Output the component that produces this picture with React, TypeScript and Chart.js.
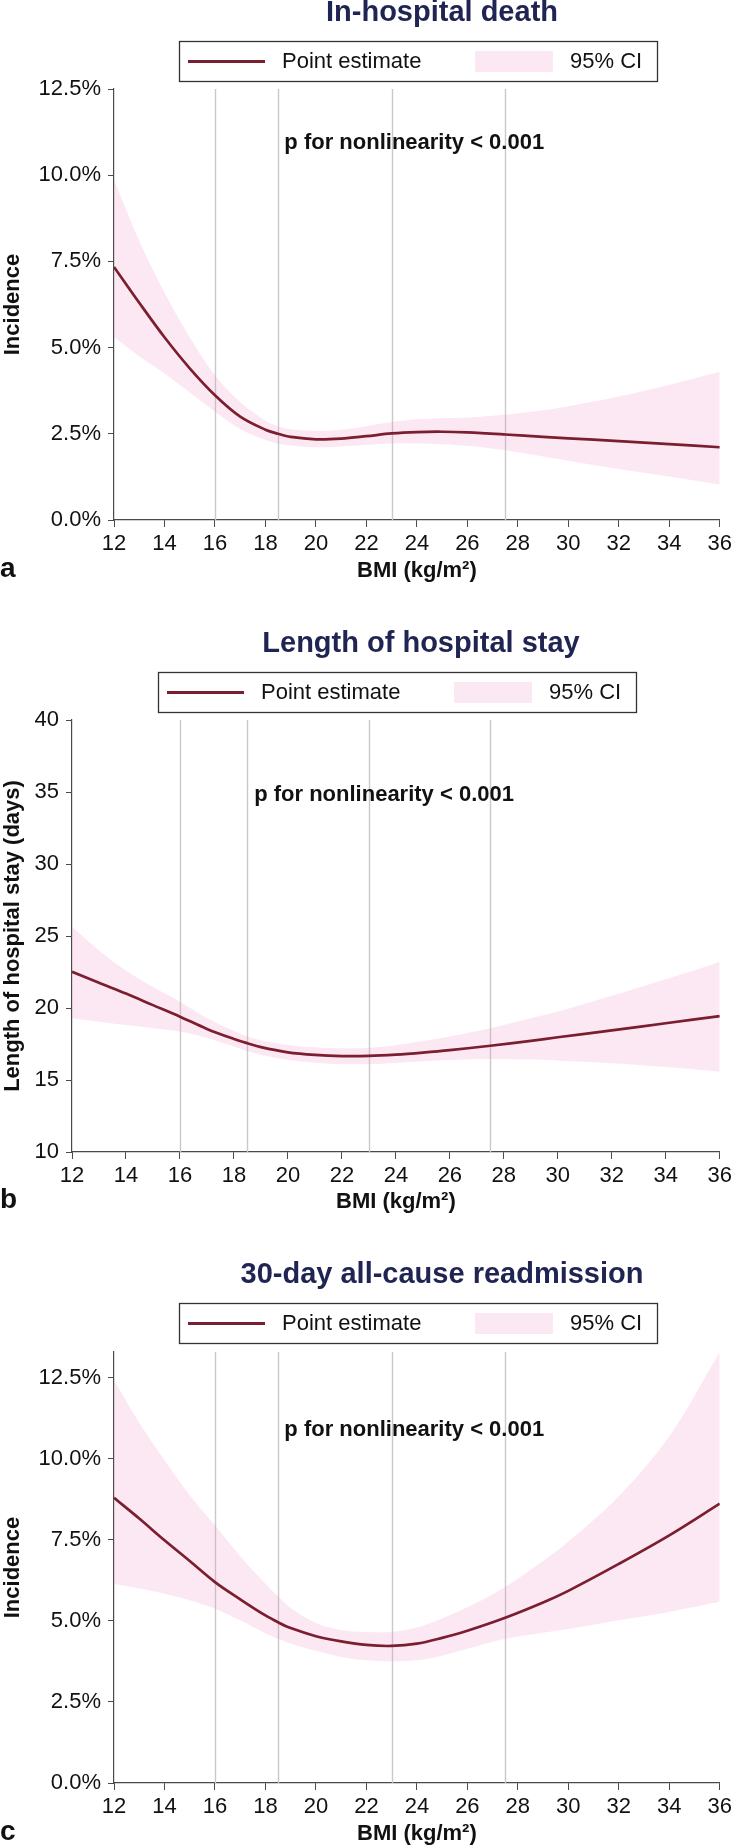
import React, { useEffect, useRef } from 'react';
import { Chart, registerables } from 'chart.js';
Chart.register(...registerables);

// ---------- data ----------
const bmi = [12, 13, 14, 15, 16, 17, 18, 18.5, 19, 20, 21, 22, 23, 24, 25, 26, 27.5, 29, 30, 32, 34, 36];

const deathPoint = [7.34, 6.3, 5.3, 4.4, 3.62, 3.0, 2.62, 2.5, 2.41, 2.34, 2.36, 2.43, 2.51, 2.55, 2.56, 2.54, 2.48, 2.41, 2.37, 2.29, 2.2, 2.11];
const deathUpper = [9.87, 8.1, 6.6, 5.3, 4.2, 3.42, 2.88, 2.72, 2.63, 2.58, 2.62, 2.72, 2.84, 2.92, 2.95, 2.97, 3.05, 3.18, 3.3, 3.58, 3.92, 4.3];
const deathLower = [5.3, 4.75, 4.25, 3.7, 3.15, 2.64, 2.32, 2.22, 2.16, 2.11, 2.13, 2.18, 2.22, 2.22, 2.2, 2.15, 2.02, 1.84, 1.72, 1.48, 1.26, 1.03];

const stayPoint = [22.52, 21.75, 21.0, 20.2, 19.4, 18.55, 17.85, 17.55, 17.28, 16.92, 16.74, 16.66, 16.67, 16.76, 16.9, 17.07, 17.38, 17.72, 17.97, 18.44, 18.94, 19.44];
const stayUpper = [25.65, 24.0, 22.6, 21.45, 20.44, 19.3, 18.4, 18.02, 17.76, 17.43, 17.27, 17.2, 17.24, 17.42, 17.7, 18.02, 18.6, 19.28, 19.75, 20.85, 22.0, 23.2];
const stayLower = [19.28, 19.05, 18.82, 18.6, 18.36, 17.92, 17.32, 17.0, 16.76, 16.4, 16.2, 16.1, 16.1, 16.18, 16.3, 16.39, 16.46, 16.42, 16.36, 16.16, 15.9, 15.58];

const readmPoint = [8.8, 8.16, 7.49, 6.85, 6.2, 5.67, 5.17, 4.96, 4.78, 4.53, 4.37, 4.26, 4.23, 4.3, 4.48, 4.7, 5.1, 5.57, 5.93, 6.76, 7.64, 8.62];
const readmUpper = [12.43, 11.12, 9.96, 8.88, 7.95, 7.0, 6.15, 5.76, 5.4, 4.94, 4.72, 4.66, 4.66, 4.8, 5.08, 5.42, 6.05, 6.85, 7.45, 8.85, 10.7, 13.3];
const readmLower = [6.15, 6.0, 5.84, 5.64, 5.38, 5.02, 4.62, 4.45, 4.3, 4.08, 3.89, 3.79, 3.76, 3.79, 3.93, 4.14, 4.45, 4.64, 4.75, 5.02, 5.28, 5.59];

const xTicks = [12, 14, 16, 18, 20, 22, 24, 26, 28, 30, 32, 34, 36];
const pctTicks = [0, 2.5, 5, 7.5, 10, 12.5];
const pctTickLabels = ['0.0%', '2.5%', '5.0%', '7.5%', '10.0%', '12.5%'];
const stayTicks = [10, 15, 20, 25, 30, 35, 40];
const stayTickLabels = ['10', '15', '20', '25', '30', '35', '40'];
const refLines = [16, 18.5, 23, 27.5];

const titles = ['In-hospital death', 'Length of hospital stay', '30-day all-cause readmission'];
const yTitles = ['Incidence', 'Length of hospital stay (days)', 'Incidence'];
const xTitle = 'BMI (kg/m\u00B2)';
const panelLetters = ['a', 'b', 'c'];
const legendLabels = ['Point estimate', '95% CI'];
const pText = 'p for nonlinearity < 0.001';
const pTextX = [18.75, 18.75, 18.75];
const pTextY = [10.75, 34.4, 10.7];

// ---------- styling / layout ----------
const FONT = '"Liberation Sans", Arial, Helvetica, sans-serif';
const LINE = '#7b1e30';
const BAND = 'rgba(235,140,195,0.2)';
const BAND_SOLID = '#fbe8f3';
const NAVY = '#1f2452';
const AX = '#4a4a4a';
const VLINE = '#c9c9c9';
const CANVAS_W = 736;
const CANVAS_H = 615;

const series = [
  { point: deathPoint, upper: deathUpper, lower: deathLower, ticks: pctTicks, labels: pctTickLabels, min: 0, max: 12.5 },
  { point: stayPoint, upper: stayUpper, lower: stayLower, ticks: stayTicks, labels: stayTickLabels, min: 10, max: 40 },
  { point: readmPoint, upper: readmUpper, lower: readmLower, ticks: pctTicks, labels: pctTickLabels, min: 0, max: 13.3 },
];

const layouts = [
  { top: 0, left: 114, plotTop: 89, plotBottom: 520, titleX: 442, titleY: 21, legendX: 179, legendY: 41, yTitleX: 19, xTitleY: 577 },
  { top: 615, left: 72, plotTop: 105, plotBottom: 537, titleX: 421, titleY: 37, legendX: 158, legendY: 57, yTitleX: 19, xTitleY: 593 },
  { top: 1230, left: 114, plotTop: 122, plotBottom: 553, titleX: 442, titleY: 53, legendX: 179, legendY: 73, yTitleX: 19, xTitleY: 610 },
];

function Panel({ idx }: { idx: number }) {
  const ref = useRef<HTMLCanvasElement>(null);
  useEffect(() => {
    const s = series[idx];
    const L = layouts[idx];
    const toPts = (arr: number[]) => bmi.map((x, i) => ({ x, y: arr[i] }));

    const deco = {
      id: 'deco' + idx,
      beforeDatasetsDraw(chart: any) {
        const { ctx, chartArea, scales } = chart;
        ctx.save();
        ctx.strokeStyle = VLINE;
        ctx.lineWidth = 1.4;
        refLines.forEach((v) => {
          const px = Math.round(scales.x.getPixelForValue(v)) + 0.5;
          ctx.beginPath();
          ctx.moveTo(px, chartArea.top);
          ctx.lineTo(px, chartArea.bottom);
          ctx.stroke();
        });
        ctx.restore();
      },
      afterDraw(chart: any) {
        const { ctx, chartArea, scales } = chart;
        ctx.save();
        // title
        ctx.fillStyle = NAVY;
        ctx.font = `bold 29px ${FONT}`;
        ctx.textAlign = 'center';
        ctx.textBaseline = 'alphabetic';
        ctx.fillText(titles[idx], L.titleX, L.titleY);

        // legend
        const lx = L.legendX, ly = L.legendY;
        ctx.strokeStyle = '#333';
        ctx.lineWidth = 1.3;
        ctx.strokeRect(lx + 0.5, ly + 0.5, 478, 40);
        ctx.strokeStyle = LINE;
        ctx.lineWidth = 3;
        ctx.beginPath();
        ctx.moveTo(lx + 9, ly + 20.5);
        ctx.lineTo(lx + 86, ly + 20.5);
        ctx.stroke();
        ctx.fillStyle = BAND_SOLID;
        ctx.fillRect(lx + 296, ly + 10, 78, 21);
        ctx.fillStyle = '#111';
        ctx.font = `22px ${FONT}`;
        ctx.textAlign = 'left';
        ctx.textBaseline = 'middle';
        ctx.fillText(legendLabels[0], lx + 103, ly + 21);
        ctx.fillText(legendLabels[1], lx + 391, ly + 21);

        // p annotation
        ctx.font = `bold 22px ${FONT}`;
        ctx.textBaseline = 'alphabetic';
        ctx.textAlign = 'left';
        ctx.fillText(pText, scales.x.getPixelForValue(pTextX[idx]), scales.y.getPixelForValue(pTextY[idx]));

        // x title
        ctx.textAlign = 'center';
        ctx.fillText(xTitle, (chartArea.left + chartArea.right) / 2, L.xTitleY);

        // panel letter
        ctx.font = `bold 28px ${FONT}`;
        ctx.textAlign = 'left';
        ctx.fillText(panelLetters[idx], 0, L.xTitleY);

        // y title
        ctx.font = `bold 22px ${FONT}`;
        ctx.translate(L.yTitleX, (chartArea.top + chartArea.bottom) / 2);
        ctx.rotate(-Math.PI / 2);
        ctx.textAlign = 'center';
        ctx.textBaseline = 'alphabetic';
        ctx.fillText(yTitles[idx], 0, 0);
        ctx.restore();
      },
    };

    const chart = new Chart(ref.current as HTMLCanvasElement, {
      type: 'line',
      data: {
        datasets: [
          {
            label: legendLabels[0],
            data: toPts(s.point),
            borderColor: LINE,
            borderWidth: 2.7,
            pointRadius: 0,
            fill: false,
            tension: 0.35,
          },
          {
            label: 'upper',
            data: toPts(s.upper),
            borderWidth: 0,
            borderColor: 'rgba(0,0,0,0)',
            pointRadius: 0,
            fill: '+1',
            backgroundColor: BAND,
            tension: 0.35,
          },
          {
            label: 'lower',
            data: toPts(s.lower),
            borderWidth: 0,
            borderColor: 'rgba(0,0,0,0)',
            pointRadius: 0,
            fill: false,
            tension: 0.35,
          },
        ],
      } as any,
      options: {
        responsive: false,
        animation: false,
        layout: { padding: { top: L.plotTop, right: CANVAS_W - 722, left: 0, bottom: 0 } },
        plugins: {
          legend: { display: false },
          title: { display: false },
          tooltip: { enabled: false },
        },
        scales: {
          x: {
            type: 'linear',
            min: 12,
            max: 36,
            afterBuildTicks: (sc: any) => {
              sc.ticks = xTicks.map((v) => ({ value: v }));
            },
            afterFit: (sc: any) => {
              sc.height = CANVAS_H - L.plotBottom;
            },
            ticks: {
              font: { family: FONT, size: 22 },
              color: '#111',
              padding: 4,
              maxRotation: 0,
              autoSkip: false,
              callback: (v: any) => String(v),
            },
            grid: { display: true, drawOnChartArea: false, drawTicks: true, tickLength: 7, color: AX, lineWidth: 1 },
            border: { display: true, color: AX, width: 1.2 },
          },
          y: {
            type: 'linear',
            min: s.min,
            max: s.max,
            afterBuildTicks: (sc: any) => {
              sc.ticks = s.ticks.map((v) => ({ value: v }));
            },
            afterFit: (sc: any) => {
              sc.width = L.left;
            },
            ticks: {
              font: { family: FONT, size: 22 },
              color: '#111',
              padding: 7,
              autoSkip: false,
              callback: (v: any) => {
                const i = s.ticks.indexOf(Number(v));
                return i >= 0 ? s.labels[i] : '';
              },
            },
            grid: { display: true, drawOnChartArea: false, drawTicks: true, tickLength: 6, color: AX, lineWidth: 1 },
            border: { display: true, color: AX, width: 1.2 },
          },
        },
      } as any,
      plugins: [deco],
    });
    return () => chart.destroy();
  }, [idx]);

  const L = layouts[idx];
  return (
    <canvas
      ref={ref}
      width={CANVAS_W}
      height={CANVAS_H}
      style={{ position: 'absolute', left: 0, top: L.top, width: CANVAS_W, height: CANVAS_H }}
    />
  );
}

export default function App() {
  return (
    <div style={{ position: 'absolute', left: 0, top: 0, width: CANVAS_W, height: 1845, background: '#fff' }}>
      <Panel idx={0} />
      <Panel idx={1} />
      <Panel idx={2} />
    </div>
  );
}
